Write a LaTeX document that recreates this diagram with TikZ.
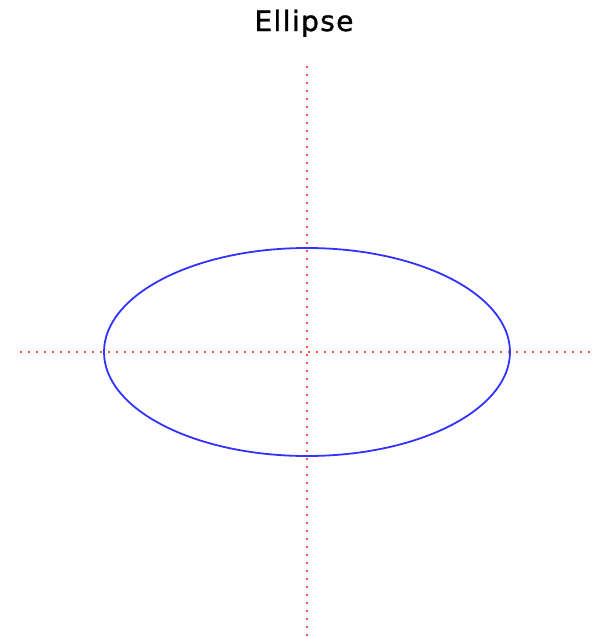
\documentclass[tikz,border=0pt]{standalone}
\usepackage{fontspec}
\setmainfont{DejaVu Sans}
\usepackage{tikz}
\usetikzlibrary{positioning}
\tikzset{
  axisline/.style={red!70, line width=2pt, dash pattern=on 2pt off 6pt},
  ellipsecurve/.style={blue!80, line width=1.8pt},
  titletext/.style={font=\fontsize{28}{30}\selectfont\addfontfeatures{LetterSpace=5,FakeBold=1.2}, inner sep=0pt}
}
\begin{document}
\begin{tikzpicture}[x=1pt, y=-1pt]

    % Rahmen
    \useasboundingbox (0,0) rectangle (599,637);

    % Titel
    \node[titletext, anchor=base] (title) at (304,31) {Ellipse};

    % Achsen
    \coordinate (center) at (307,352);
    \coordinate (xleft) at (20,352);
    \coordinate (xright) at (592,352);
    \coordinate (ytop) at (307,66);
    \coordinate (ybottom) at (307,636);
    \draw[axisline] (xleft) -- (xright);
    \draw[axisline] (ytop) -- (ybottom);

    % Ellipse
    \draw[ellipsecurve] (center) ellipse [x radius=203, y radius=104];

\end{tikzpicture}
\end{document}
